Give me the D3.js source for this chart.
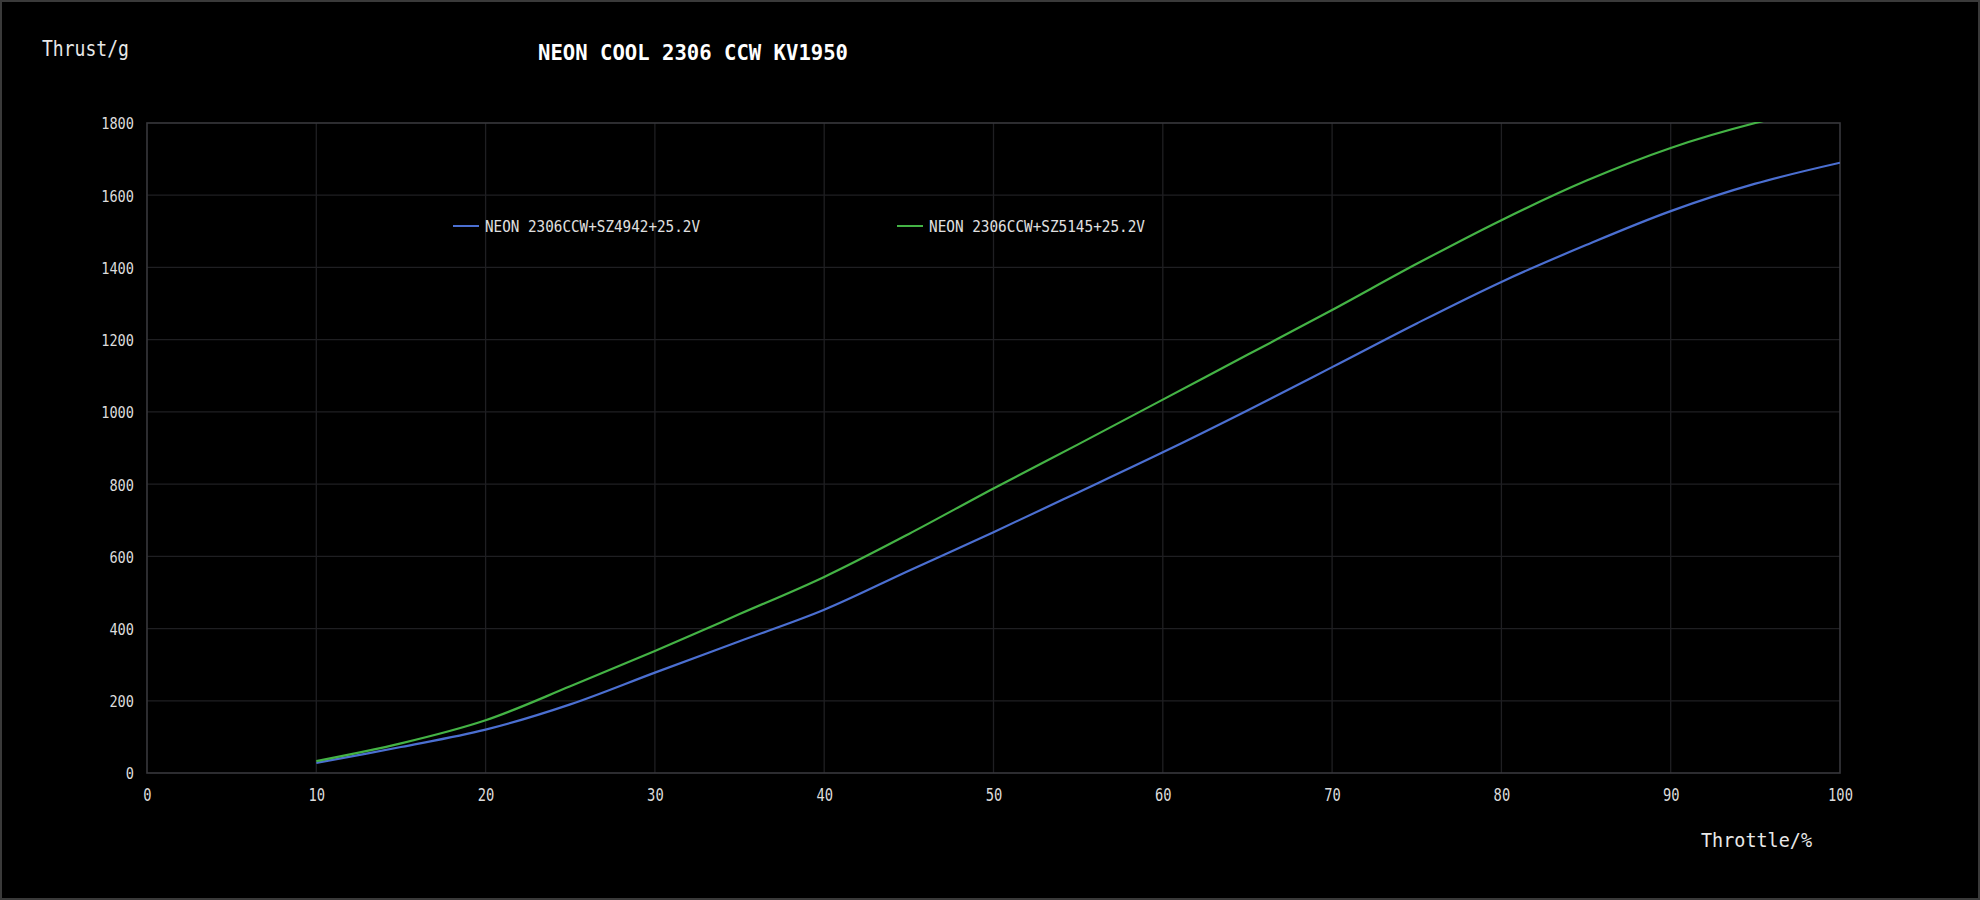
<!DOCTYPE html>
<html>
<head>
<meta charset="utf-8">
<script src="https://cdn.jsdelivr.net/npm/d3@7/dist/d3.min.js"></script>
<style>
  html, body { margin: 0; padding: 0; background: #000000; }
  svg { display: block; }
</style>
</head>
<body>
<svg id="chart" width="1980" height="900"></svg>
<script>
// ---- data ----
const throttle = [10, 15, 20, 25, 30, 35, 40, 45, 50, 55, 60, 65, 70, 75, 80, 85, 90, 95, 100];
const thrustSZ4942 = [28, 72, 120, 190, 278, 365, 452, 560, 667, 777, 888, 1004, 1124, 1245, 1360, 1462, 1556, 1632, 1690];
const thrustSZ5145 = [33, 82, 146, 240, 338, 440, 543, 662, 788, 910, 1034, 1158, 1282, 1410, 1531, 1640, 1731, 1800, 1852];
const seriesNames = ["NEON 2306CCW+SZ4942+25.2V", "NEON 2306CCW+SZ5145+25.2V"];
const seriesColors = ["#4b6fd1", "#44b345"];
const xTicks = [0, 10, 20, 30, 40, 50, 60, 70, 80, 90, 100];
const yTicks = [0, 200, 400, 600, 800, 1000, 1200, 1400, 1600, 1800];
const titleText = "NEON COOL 2306 CCW KV1950";
const yAxisName = "Thrust/g";
const xAxisName = "Throttle/%";

(function () {
// ---- layout ----
const W = 1980, H = 900;
const pLeft = 147, pRight = 1840, pTop = 123, pBottom = 773;
const FONT = "'DejaVu Sans Mono', 'Liberation Mono', monospace";

const svg = d3.select("#chart");

svg.append("rect").attr("x", 0).attr("y", 0).attr("width", W).attr("height", H).attr("fill", "#000000");
svg.append("rect").attr("x", 1).attr("y", 1).attr("width", W - 2).attr("height", H - 2)
  .attr("fill", "none").attr("stroke", "#3a3a3a").attr("stroke-width", 2);

const x = d3.scaleLinear().domain([0, 100]).range([pLeft, pRight]);
const y = d3.scaleLinear().domain([0, 1800]).range([pBottom, pTop]);

// grid
const grid = svg.append("g");
grid.selectAll(".vg").data(xTicks.filter(d => d > 0 && d < 100)).enter().append("line")
  .attr("x1", d => x(d)).attr("x2", d => x(d)).attr("y1", pTop).attr("y2", pBottom)
  .attr("stroke", "#1f1f22").attr("stroke-width", 1.3);
grid.selectAll(".hg").data(yTicks.filter(d => d > 0 && d < 1800)).enter().append("line")
  .attr("x1", pLeft).attr("x2", pRight).attr("y1", d => y(d)).attr("y2", d => y(d))
  .attr("stroke", "#1f1f22").attr("stroke-width", 1.3);
svg.append("rect").attr("x", pLeft).attr("y", pTop).attr("width", pRight - pLeft).attr("height", pBottom - pTop)
  .attr("fill", "none").attr("stroke", "#38383c").attr("stroke-width", 1.6);

// axes
const xAxis = svg.append("g").attr("transform", `translate(0,${pBottom})`)
  .call(d3.axisBottom(x).tickValues(xTicks).tickSize(0).tickFormat(d3.format("d")));
xAxis.select(".domain").remove();
xAxis.selectAll("text")
  .attr("y", 28).attr("dy", 0)
  .attr("fill", "#dcdcdc")
  .style("font-family", FONT).style("font-size", "17px")
  .each(function() { const t = d3.select(this); t.attr("textLength", t.text().length * 8.3).attr("lengthAdjust", "spacingAndGlyphs"); });

const yAxis = svg.append("g").attr("transform", `translate(${pLeft},0)`)
  .call(d3.axisLeft(y).tickValues(yTicks).tickSize(0).tickFormat(d3.format("d")));
yAxis.select(".domain").remove();
yAxis.selectAll("text")
  .attr("x", -13).attr("dy", "0.36em")
  .attr("fill", "#dcdcdc")
  .style("font-family", FONT).style("font-size", "16.5px")
  .each(function() { const t = d3.select(this); t.attr("textLength", t.text().length * 8.2).attr("lengthAdjust", "spacingAndGlyphs"); });

// lines
svg.append("clipPath").attr("id", "plotClip").append("rect")
  .attr("x", pLeft).attr("y", pTop - 1).attr("width", pRight - pLeft).attr("height", pBottom - pTop + 2);

const line = d3.line().x(d => x(d[0])).y(d => y(d[1])).curve(d3.curveCatmullRom.alpha(0.5));
const series = [thrustSZ4942, thrustSZ5145];
svg.append("g").attr("clip-path", "url(#plotClip)")
  .selectAll("path").data(series).enter().append("path")
  .attr("d", vals => line(throttle.map((t, i) => [t, vals[i]])))
  .attr("fill", "none")
  .attr("stroke", (d, i) => seriesColors[i])
  .attr("stroke-width", 2.2);

// legend
const legendX = [453, 897];
const legendTextW = [215, 216];
const lg = svg.append("g");
seriesNames.forEach((name, i) => {
  lg.append("line").attr("x1", legendX[i]).attr("x2", legendX[i] + 26).attr("y1", 226).attr("y2", 226)
    .attr("stroke", seriesColors[i]).attr("stroke-width", 2);
  lg.append("text").attr("x", legendX[i] + 32).attr("y", 232)
    .attr("fill", "#e0e0e0").style("font-family", FONT).style("font-size", "16.5px")
    .attr("textLength", legendTextW[i]).attr("lengthAdjust", "spacingAndGlyphs")
    .text(name);
});

// title and axis names
svg.append("text").attr("x", 538).attr("y", 60)
  .attr("fill", "#ffffff").style("font-family", FONT).style("font-size", "21px").style("font-weight", "bold")
  .attr("textLength", 310).attr("lengthAdjust", "spacingAndGlyphs")
  .text(titleText);
svg.append("text").attr("x", 42).attr("y", 56)
  .attr("fill", "#e8e8e8").style("font-family", FONT).style("font-size", "20.5px")
  .attr("textLength", 87).attr("lengthAdjust", "spacingAndGlyphs")
  .text(yAxisName);
svg.append("text").attr("x", 1701).attr("y", 847)
  .attr("fill", "#e8e8e8").style("font-family", FONT).style("font-size", "20px")
  .attr("textLength", 111).attr("lengthAdjust", "spacingAndGlyphs")
  .text(xAxisName);
})();
</script>
</body>
</html>
